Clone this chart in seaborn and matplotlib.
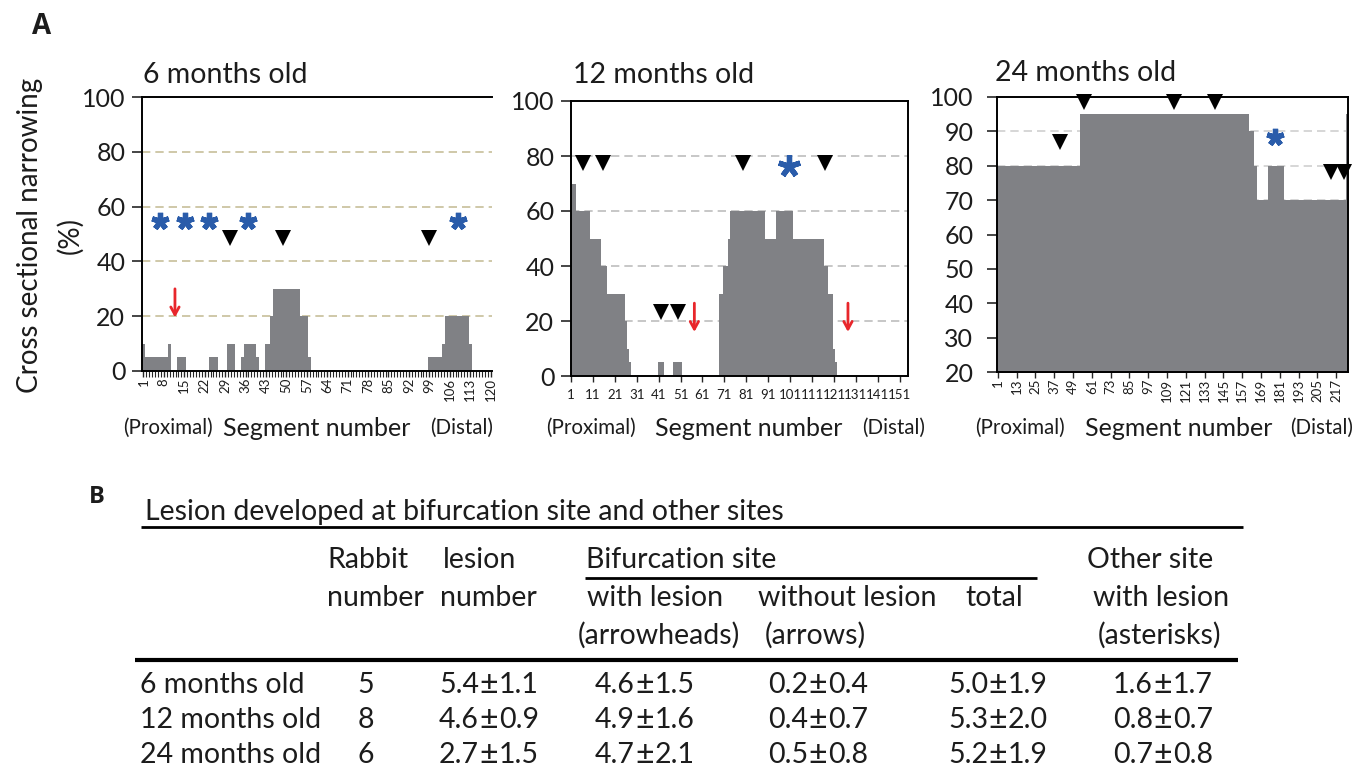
import numpy as np
import pandas as pd
import matplotlib
matplotlib.use("Agg")
import matplotlib.pyplot as plt
import seaborn as sns

sns.set_style("ticks")
plt.rcParams["font.family"] = ["Lato", "DejaVu Sans"]

# ---------------- data ----------------
# Narrowing level (%) per run of consecutive segments: each run starts at the given segment
m6_run_start = [1, 2, 10, 11, 13, 16, 24, 27, 30, 33, 35, 36, 40, 41, 43, 45, 46, 55, 58, 59, 99, 104, 105, 113, 114]
m6_run_level = [10, 5, 10, 0, 5, 0, 5, 0, 10, 0, 5, 10, 5, 0, 10, 20, 30, 20, 5, 0, 5, 10, 20, 10, 0]
m6_segments = 120
m6_arrowheads = [30.7, 48.7, 98.8]
m6_arrowhead_y = 48.5
m6_asterisks = [6.7, 15.2, 23.5, 37.0, 109.0]
m6_asterisk_y = 54.6
m6_arrows = [11.8]
m6_xticks = [1, 8, 15, 22, 29, 36, 43, 50, 57, 64, 71, 78, 85, 92, 99, 106, 113, 120]

m12_run_start = [1, 4, 10, 15, 18, 26, 27, 28, 29, 41, 44, 48, 52, 69, 71, 73, 74, 90, 95, 103, 117, 119, 121, 122, 123]
m12_run_level = [70, 60, 50, 40, 30, 20, 10, 5, 0, 5, 0, 5, 0, 30, 40, 50, 60, 50, 60, 50, 40, 30, 10, 5, 0]
m12_segments = 155
m12_arrowheads_hi = [6.6, 15.8, 79.7, 116.7]
m12_arrowhead_hi_y = 77.3
m12_arrowheads_lo = [42.1, 50.0]
m12_arrowhead_lo_y = 23.4
m12_asterisks = [100.3]
m12_asterisk_y = 76.5
m12_arrows = [57.3, 127.4]
m12_xticks = [1, 11, 21, 31, 41, 51, 61, 71, 81, 91, 101, 111, 121, 131, 141, 151]

m24_run_start = [1, 54, 162, 165, 167, 174, 184, 224]
m24_run_level = [80, 95, 90, 80, 70, 80, 70, 95]
m24_segments = 224
m24_arrowheads = [40.9, 56.2, 113.2, 139.4, 213.6, 221.7]
m24_arrowhead_y = [86.8, 98.5, 98.5, 98.5, 78.2, 78.2]
m24_asterisks = [178.1]
m24_asterisk_y = 88.4
m24_xticks = [1, 13, 25, 37, 49, 61, 73, 85, 97, 109, 121, 133, 145, 157, 169, 181, 193, 205, 217]

table_groups = ["6 months old", "12 months old", "24 months old"]
rabbit_number = ["5", "8", "6"]
lesion_number = [("5.4", "1.1"), ("4.6", "0.9"), ("2.7", "1.5")]
bif_with_lesion = [("4.6", "1.5"), ("4.9", "1.6"), ("4.7", "2.1")]
bif_without_lesion = [("0.2", "0.4"), ("0.4", "0.7"), ("0.5", "0.8")]
bif_total = [("5.0", "1.9"), ("5.3", "2.0"), ("5.2", "1.9")]
other_with_lesion = [("1.6", "1.7"), ("0.8", "0.7"), ("0.7", "0.8")]

# ---------------- styling ----------------
BAR = "#808185"
BLUE = "#2a5caa"
RED = "#e8262b"
INK = "#1c1c1c"
W, H = 1357, 782

fig = plt.figure(figsize=(W / 100, H / 100), dpi=100)


def axes_px(left, top, right, bottom):
    return fig.add_axes([left / W, 1 - bottom / H, (right - left) / W, (bottom - top) / H])


def draw_profile(ax, starts, levels, n_seg):
    edges = [s - 0.5 for s in starts] + [n_seg + 0.5]
    mids = [(a + b) / 2 for a, b in zip(edges[:-1], edges[1:])]
    df = pd.DataFrame({"segment": mids, "narrowing": [float(v) for v in levels]})
    sns.histplot(data=df, x="segment", weights="narrowing", bins=edges,
                 element="step", fill=True, color=BAR, alpha=1, linewidth=0,
                 ax=ax, zorder=2)
    ax.set_xlabel("")
    ax.set_ylabel("")


def style_axes(ax, grid_color, right=True, ypad=5):
    ax.set_axisbelow(True)
    ax.yaxis.grid(True, linestyle=(0, (5, 3)), color=grid_color, linewidth=1.2)
    for side in ["left", "bottom", "top", "right"]:
        ax.spines[side].set_color("black")
        ax.spines[side].set_linewidth(1.4)
    ax.spines["right"].set_visible(right)
    ax.tick_params(axis="y", length=7, width=1.2, labelsize=18, pad=ypad,
                   labelcolor=INK)
    ax.tick_params(axis="x", length=4, width=1.0, pad=1, labelcolor=INK)


def triangles(ax, xs, ys):
    ax.plot(xs, ys, linestyle="none", marker="v", ms=12, color="black",
            markeredgewidth=0, clip_on=False, zorder=5)


def stars(ax, xs, y, ms=12.5):
    ax.plot(xs, [y] * len(xs), linestyle="none", marker=(5, 2, 0), ms=ms,
            markeredgewidth=3.8, color=BLUE, clip_on=False, zorder=5)


def red_arrows(ax, xs, y0, y1):
    for x in xs:
        ax.annotate("", xy=(x, y1), xytext=(x, y0),
                    arrowprops=dict(arrowstyle="->,head_length=0.55,head_width=0.3",
                                    color=RED, lw=2), zorder=5)


# ---- 6 months ----
ax1 = axes_px(142, 97, 492, 371)
draw_profile(ax1, m6_run_start, m6_run_level, m6_segments)
style_axes(ax1, "#c7bf9a", right=False)
ax1.set_xlim(0.5, m6_segments + 0.5)
ax1.set_ylim(0, 100)
ax1.set_yticks([0, 20, 40, 60, 80, 100])
ax1.set_xticks(m6_xticks)
ax1.set_xticklabels([str(v) for v in m6_xticks], rotation=90, fontsize=9.5)
ax1.set_xticks(np.arange(1, m6_segments + 1), minor=True)
ax1.tick_params(axis="x", which="minor", length=4, width=0.8)
triangles(ax1, m6_arrowheads, [m6_arrowhead_y] * len(m6_arrowheads))
stars(ax1, m6_asterisks, m6_asterisk_y)
red_arrows(ax1, m6_arrows, 31, 18.5)

# ---- 12 months ----
ax2 = axes_px(571, 101, 908, 376)
draw_profile(ax2, m12_run_start, m12_run_level, m12_segments)
style_axes(ax2, "#bdbdbd", right=True)
ax2.set_xlim(1, 154.8)
ax2.set_ylim(0, 100)
ax2.set_yticks([0, 20, 40, 60, 80, 100])
ax2.set_xticks(m12_xticks)
ax2.set_xticklabels([str(v) for v in m12_xticks], fontsize=9.5)
ax2.tick_params(axis="x", pad=5)
triangles(ax2, m12_arrowheads_hi, [m12_arrowhead_hi_y] * len(m12_arrowheads_hi))
triangles(ax2, m12_arrowheads_lo, [m12_arrowhead_lo_y] * len(m12_arrowheads_lo))
stars(ax2, m12_asterisks, m12_asterisk_y, ms=16)
red_arrows(ax2, m12_arrows, 27.5, 15)

# ---- 24 months ----
ax3 = axes_px(997, 97, 1348, 372)
draw_profile(ax3, m24_run_start, m24_run_level, m24_segments)
style_axes(ax3, "#d0d0d0", right=True, ypad=10)
ax3.set_xlim(0.5, m24_segments + 0.5)
ax3.set_ylim(20, 100)
ax3.set_yticks(np.arange(20, 101, 10))
ax3.set_xticks(m24_xticks)
ax3.set_xticklabels([str(v) for v in m24_xticks], rotation=90, fontsize=9.5)
triangles(ax3, m24_arrowheads, m24_arrowhead_y)
stars(ax3, m24_asterisks, m24_asterisk_y)

# ---------------- annotation layer (pixel coordinates) ----------------
ov = fig.add_axes([0, 0, 1, 1], zorder=10)
ov.set_xlim(0, W)
ov.set_ylim(H, 0)
ov.axis("off")
ov.patch.set_visible(False)

TS = 20.5  # table text size


def t(x, y, s, size=TS, ha="left", va="center", **kw):
    ov.text(x, y, s, fontsize=size, ha=ha, va=va, color=INK, **kw)


def pm(cx, y, pair):
    t(cx - 10, y, pair[0], ha="right")
    t(cx, y, "\u00b1", size=23, ha="center")
    t(cx + 10, y, pair[1], ha="left")


def hline(x0, x1, y, lw):
    ov.plot([x0, x1], [y, y], color="black", lw=lw, solid_capstyle="butt")


t(42, 26, "A", size=20, ha="center", weight="bold", family=["Open Sans", "DejaVu Sans"])
t(97, 497, "B", size=17, ha="center", weight="bold", family=["Open Sans", "DejaVu Sans"])

t(143, 75, "6 months old", size=20.5)
t(573, 75, "12 months old", size=20.5)
t(995, 73, "24 months old", size=20.5)

t(30, 235, "Cross sectional narrowing", size=20, ha="center", rotation=90)
t(70, 235, "(%)", size=20, ha="center", rotation=90)

for px_, sn_, di_ in [(168, 317, 462), (591, 749, 894), (1020, 1179, 1322)]:
    t(px_, 428, "(Proximal)", size=14.8, ha="center")
    t(sn_, 428, "Segment number", size=18, ha="center")
    t(di_, 428, "(Distal)", size=14.8, ha="center")

# table
t(145, 512, "Lesion developed at bifurcation site and other sites")
hline(141, 1243, 527, 2.0)
t(327, 560, "Rabbit")
t(327, 598, "number")
t(443, 560, "lesion")
t(440, 598, "number")
t(586, 560, "Bifurcation site")
hline(585, 1037, 578, 2.0)
t(587, 598, "with lesion")
t(578, 635, "(arrowheads)")
t(758, 598, "without lesion")
t(765, 635, "(arrows)")
t(965, 598, "total")
t(1087, 560, "Other site")
t(1093, 598, "with lesion")
t(1098, 635, "(asterisks)")
hline(135, 1238, 660, 3.0)

row_y = [685, 720, 755]
for i, y in enumerate(row_y):
    t(140, y, table_groups[i])
    t(366, y, rabbit_number[i], ha="center")
    pm(489, y, lesion_number[i])
    pm(645, y, bif_with_lesion[i])
    pm(818, y, bif_without_lesion[i])
    pm(998, y, bif_total[i])
    pm(1163, y, other_with_lesion[i])

fig.savefig("out.png", dpi=100)
